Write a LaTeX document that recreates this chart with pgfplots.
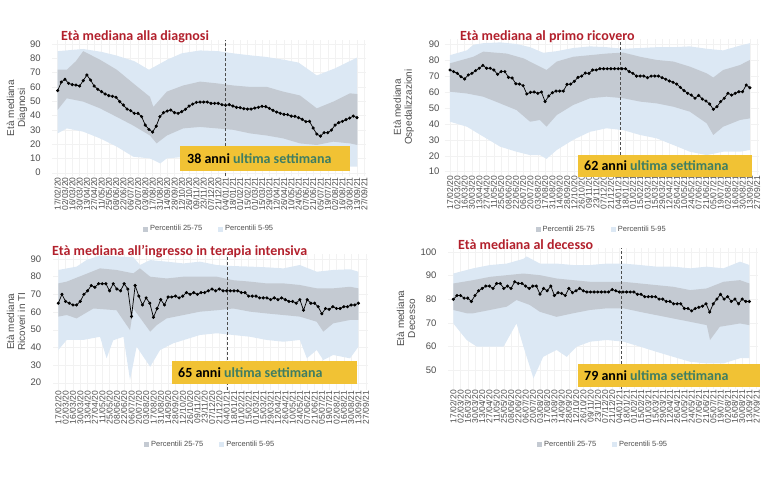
\documentclass[border=0pt]{standalone}
\usepackage{fontspec}
\setmainfont{Liberation Sans}
\newfontfamily\calibri{Carlito}
\usepackage{pgfplots}
\pgfplotsset{compat=1.18}
\definecolor{lb}{RGB}{220,232,244}
\definecolor{dg}{RGB}{196,202,210}
\definecolor{tred}{RGB}{178,32,44}
\definecolor{byel}{RGB}{241,194,52}
\definecolor{bgreen}{RGB}{62,125,98}
\definecolor{tickc}{RGB}{77,77,77}
\pgfplotsset{
 panel/.style={
  scale only axis, anchor=north west,
  xmin=-1.5, xmax=84.5,
  axis line style={draw=none}, tick style={draw=none},
  xtick={0,2,...,84},
  xticklabels={17/02/20,02/03/20,16/03/20,30/03/20,13/04/20,27/04/20,11/05/20,25/05/20,08/06/20,22/06/20,06/07/20,20/07/20,03/08/20,17/08/20,31/08/20,14/09/20,28/09/20,12/10/20,26/10/20,09/11/20,23/11/20,07/12/20,21/12/20,04/01/21,18/01/21,01/02/21,15/02/21,01/03/21,15/03/21,29/03/21,12/04/21,26/04/21,10/05/21,24/05/21,07/06/21,21/06/21,05/07/21,19/07/21,02/08/21,16/08/21,30/08/21,13/09/21,27/09/21},
  xticklabel style={rotate=90, anchor=east, font=\fontsize{8.5}{8.5}\selectfont, text=tickc, inner sep=1pt},
  yticklabel style={font=\fontsize{9.5}{10}\selectfont, text=tickc},
  /pgf/number format/assume math mode=true,
  grid=major, grid style={gray!10, line width=0.4pt},
  ylabel style={anchor=center, align=center, font=\fontsize{10}{11}\selectfont, text=tickc},
  legend columns=2,
  legend style={draw=none, fill=none, font=\fontsize{7.5}{8}\selectfont, text=tickc, anchor=center, /tikz/every even column/.append style={column sep=14pt}},
  legend image code/.code={\fill[##1] (0pt,-2.5pt) rectangle (5pt,2.5pt);},
 },
 med/.style={black, line width=0.7pt, mark=*, mark size=1.2pt, forget plot},
 bandA/.style={fill=lb, draw=none, forget plot},
 bandB/.style={fill=dg, draw=none, forget plot},
}
\begin{document}
\begin{tikzpicture}
\path[use as bounding box] (0pt,0pt) rectangle (767pt,-502pt);

% ---------- Panel 1 ----------
\begin{axis}[panel, at={(52.2pt,-39.7pt)}, width=313.9pt, height=136.6pt,
  ymin=-2.5, ymax=93, ytick={0,10,...,90},
  yticklabel style={xshift=-8pt},
  ylabel={Età mediana\\Diagnosi}, ylabel style={at={(rel axis cs:-0.112,0.5)}},
  legend style={at={(0.5,-0.386)}}]
\addlegendimage{fill=dg, draw=none}\addlegendentry{Percentili 25-75}
\addlegendimage{fill=lb, draw=none}\addlegendentry{Percentili 5-95}
\addplot[bandA] coordinates {(0,85)(7,86.5)(12,84.5)(16,82)(21,78)(25,72)(30,79)(34,83.5)(39,85.5)(44,85)(48,83.5)(53,82)(57,81)(62,79)(66,77)(71,68)(76,73)(82,80.5)
(82.1,4.2)(80.1,4.2)(75.5,4.2)(71,4.2)(66.4,5.4)(61.8,6.5)(57.3,7.7)(52.7,8.9)(48.1,10)(43.6,11)(39,12.4)(34.4,11)(29.9,10)(28.1,6.5)(25.3,10)(20.7,11.2)(16.2,18.2)(11.6,24)(7,28.7)(2.5,31)(0,27.5)} -- cycle;
\addplot[bandB] coordinates {(0,72)(2.5,72)(5,78)(7,85)(11.6,79)(16.2,72)(20.7,62.5)(25.3,53)(26.2,46)(29.9,56.7)(34.4,61)(39,63.7)(43.6,62.5)(48.1,61)(52.7,60)(57.3,60)(61.8,56.7)(66.4,54)(71,45)(75.5,49.7)(80.1,55.5)(82.1,55)
(82.1,19.4)(80.1,20.5)(75.5,21.7)(71,19.4)(66.4,20.5)(61.8,24)(57.3,26)(52.7,27.5)(48.1,30)(43.6,31)(39,32)(34.4,31)(29.9,26)(27.1,20.5)(25.3,26)(20.7,33)(16.2,39)(11.6,45)(7,49.7)(2.5,52)(0,44)} -- cycle;
\addplot[med] table[x expr=\coordindex, y=m, row sep=\\] {m\\
57.4\\63.4\\65.3\\62.5\\61.6\\61.3\\60.6\\64.4\\68.3\\64.8\\60.6\\58.3\\56.7\\55\\53.9\\53.4\\52.7\\49.7\\47.3\\44.5\\43.4\\41.5\\41.5\\39.2\\33.3\\30.3\\28.4\\32.6\\39.2\\42\\43.1\\43.8\\42\\41.5\\42.7\\44.3\\46.6\\48\\49.2\\49.4\\49.4\\49.4\\48.5\\48.5\\48.5\\47.6\\47.1\\47.6\\46.6\\45.7\\45.5\\44.8\\44.5\\44.5\\45.2\\45.7\\46.4\\46.2\\45\\43.6\\42.4\\41.5\\40.8\\40.6\\39.6\\39.4\\38.5\\37.3\\35.7\\35.9\\31.2\\27\\25.6\\28\\28\\29.8\\33.3\\35\\35.9\\37.1\\38.2\\39.6\\38.5\\
};
\addplot[densely dashed, tickc, line width=0.6pt, forget plot] coordinates {(46,-2.5)(46,93)};
\end{axis}

% ---------- Panel 2 ----------
\begin{axis}[panel, at={(444.5pt,-39.2pt)}, width=314.5pt, height=135.7pt,
  ymin=8, ymax=93, ytick={10,20,...,90},
  yticklabel style={xshift=-1.5pt},
  ylabel={Età mediana\\Ospedalizzazioni}, ylabel style={at={(rel axis cs:-0.130,0.5)}},
  legend style={at={(0.5,-0.399)}}]
\addlegendimage{fill=dg, draw=none}\addlegendentry{Percentili 25-75}
\addlegendimage{fill=lb, draw=none}\addlegendentry{Percentili 5-95}
\addplot[bandA] coordinates {(0,83)(4.6,86)(6.4,89.5)(9.1,90.5)(13.7,91)(18.2,90)(21.9,88)(25.5,84.5)(29.2,85.5)(33.7,87.5)(38.3,88.5)(42.8,88)(47.4,87)(52,87.5)(56.5,88)(61.1,88)(65.6,88.5)(70.2,87)(74.7,86)(79.3,89)(82,90.5)
(82,23.6)(79.3,22.5)(74.7,22.5)(70.2,20.4)(65.6,22.5)(61.1,26.7)(56.5,30.9)(52,33)(47.4,36)(42.8,37.2)(38.3,35)(33.7,30)(29.2,23.6)(26.4,18)(24.6,20.4)(21.9,20.4)(18.2,22.5)(13.7,25.7)(9.1,32)(4.6,38.2)(0,41.3)} -- cycle;
\addplot[bandB] coordinates {(0,77.9)(6.4,82)(9.1,85.2)(15.5,84)(20.1,81)(24.6,75.8)(26.4,73.7)(29.2,79)(33.7,82)(38.3,83)(42.8,84)(47.4,84.6)(52,82)(56.5,80)(61.1,79)(65.6,75.8)(70.2,71.6)(72,69)(74.7,73.7)(79.3,76.8)(82,80)
(82,43.4)(79.3,42.4)(74.7,38.2)(72,33)(70.2,40.3)(65.6,47.6)(61.1,50.7)(56.5,52.8)(52,53.9)(47.4,56)(42.8,57)(38.3,56)(33.7,51.8)(29.2,45.5)(26.4,38.2)(24.6,42.4)(21.9,41.3)(18.2,48.6)(13.7,52.8)(9.1,57)(4.6,59)(0,60.1)} -- cycle;
\addplot[med] table[x expr=\coordindex, y=m, row sep=\\] {m\\
73.7\\72.7\\71.6\\69.5\\68.1\\70.6\\71.6\\73.3\\74.8\\76.6\\74.8\\74.8\\73.7\\71\\72.7\\72.7\\69.1\\68.7\\65.1\\64.9\\63.9\\58.7\\59.7\\59.9\\59.1\\59.9\\53.9\\57.4\\59.5\\60.5\\60.5\\60.5\\64.7\\64.9\\66.6\\69.1\\69.9\\71.8\\71.6\\73.7\\73.7\\74.5\\74.5\\74.5\\74.5\\74.5\\74.5\\74.5\\74.5\\72.7\\71.6\\69.9\\69.9\\69.9\\68.9\\69.9\\69.9\\69.9\\68.9\\67.9\\66.8\\66\\64.9\\62.8\\60.8\\59.1\\58\\56\\57.8\\55.5\\54.3\\52.4\\49.1\\50.7\\53.9\\56\\59.1\\58\\59.1\\60.1\\60.1\\64.3\\62.6\\
};
\addplot[densely dashed, tickc, line width=0.6pt, forget plot] coordinates {(46.5,8)(46.5,93)};
\end{axis}

% ---------- Panel 3 ----------
\begin{axis}[panel, at={(52.8pt,-253.7pt)}, width=314.8pt, height=136.1pt,
  ymin=16, ymax=93, ytick={20,30,...,90},
  yticklabel style={xshift=-8pt},
  ylabel={Età mediana\\Ricoveri in TI}, ylabel style={at={(rel axis cs:-0.117,0.5)}},
  legend style={at={(0.5,-0.401)}}]
\addlegendimage{fill=dg, draw=none}\addlegendentry{Percentili 25-75}
\addlegendimage{fill=lb, draw=none}\addlegendentry{Percentili 5-95}
\addplot[bandA] coordinates {(0,83.8)(5,85.7)(7.7,89.4)(11.4,92)(20.5,91)(22.3,86.6)(25.1,89.4)(29.6,88.5)(34.2,87.5)(38.7,88.5)(43.3,86.6)(47.8,86)(52.4,85.7)(56.9,85.3)(61.5,84.7)(66,86.6)(70.6,82.8)(75.1,83.8)(79.7,84.2)(82,82.8)
(82,40.4)(79.7,33.8)(75.1,35.7)(72.4,32.8)(70.6,38.5)(67.9,33.8)(66,44.2)(61.5,43.2)(56.9,44.2)(52.4,46)(47.8,47)(43.3,48)(38.7,47)(31.4,42.3)(27.8,38.5)(25.1,29)(21.4,40.4)(19.6,21.5)(17.8,46)(15,44)(13.2,33.8)(11.4,46)(6.8,44.2)(2.3,44.2)(0,38.5)} -- cycle;
\addplot[bandB] coordinates {(0,76.2)(2.3,77.2)(6.8,80.9)(11.4,84.7)(15.9,83.8)(20.5,81.9)(22.3,84.7)(25.1,80)(29.6,79)(34.2,80)(38.7,80)(43.3,80)(47.8,78)(52.4,77.2)(56.9,76.2)(61.5,76.2)(66,75.3)(70.6,73.4)(75.1,73.4)(79.7,74.3)(82,73.4)
(82,55.5)(79.7,55.5)(75.1,53.6)(72.4,48.9)(70.6,54.5)(66,57.4)(61.5,58.3)(56.9,59.2)(52.4,60.2)(47.8,62)(43.3,61)(38.7,60.2)(34.2,58.3)(29.6,56.4)(26.9,52.6)(25.1,48.9)(20.5,62)(19.6,49.8)(15.9,61)(9.6,62)(5,56.4)(2.3,58.3)(0,57.4)} -- cycle;
\addplot[med] table[x expr=\coordindex, y=m, row sep=\\] {m\\
65\\70\\66\\65\\64\\64\\66\\70\\72\\75\\74\\76\\76\\76\\72\\76\\73\\72\\76\\73\\57.5\\75\\69\\64\\68\\65\\57\\62\\67\\64\\68.5\\68.5\\69\\68\\69\\71\\70\\71\\70\\71\\71\\72\\73\\72\\73\\72\\72\\72\\72\\72\\71\\71\\69\\69\\69\\68\\68\\68\\67\\68\\67\\68\\67\\66\\66\\65\\67\\61\\67\\65\\65\\63\\59\\62\\61.5\\63\\62\\62\\63\\63\\64\\64\\65\\
};
\addplot[densely dashed, tickc, line width=0.6pt, forget plot] coordinates {(46.3,16)(46.3,93)};
\end{axis}

% ---------- Panel 4 ----------
\begin{axis}[panel, at={(447.9pt,-248.2pt)}, width=310.5pt, height=140.8pt,
  ymin=42, ymax=101.5, ytick={50,60,...,100},
  yticklabel style={xshift=-8pt},
  ylabel={Età mediana\\Decesso}, ylabel style={at={(rel axis cs:-0.135,0.5)}},
  legend style={at={(0.5,-0.391)}}]
\addlegendimage{fill=dg, draw=none}\addlegendentry{Percentili 25-75}
\addlegendimage{fill=lb, draw=none}\addlegendentry{Percentili 5-95}
\addplot[bandA] coordinates {(0,90.8)(5.5,93)(10.2,94.4)(14.8,95)(19.4,97)(20.3,98)(24,95)(28.6,95)(33.2,94.4)(37.9,94.4)(42.5,95)(47.1,95)(51.7,94.4)(56.3,93.7)(60.9,93.7)(65.6,93)(70.2,93.7)(74.8,93)(79.4,95.8)(82,94.4)
(82,55)(79.4,55)(74.8,52.8)(70.2,52.8)(65.6,53.5)(60.9,55.6)(56.3,57.7)(51.7,59.9)(47.1,62)(42.5,62.7)(37.9,62)(34.2,59.9)(31.4,55.6)(28.6,58.5)(24.9,55.6)(22.2,46.5)(19.4,60)(17.5,69.7)(13.9,59.9)(10.2,59.9)(6.5,59.9)(3.7,62.7)(0,69.7)} -- cycle;
\addplot[bandB] coordinates {(0,86.6)(5.5,88)(10.2,89.4)(14.8,90.1)(19.4,90.8)(24,90.1)(28.6,88.7)(33.2,88)(37.9,87.3)(42.5,87.3)(47.1,87.3)(51.7,86.6)(56.3,85.9)(60.9,85.2)(65.6,83.8)(70.2,84.5)(74.8,87.3)(79.4,88)(82,86.6)
(82,69)(79.4,69.7)(73.8,68.3)(71.1,62.7)(70.2,69)(65.6,70.4)(60.9,71.8)(56.3,73.2)(51.7,74.6)(47.1,76.1)(42.5,76.1)(37.9,75.4)(33.2,74)(28.6,72.5)(24,74.6)(21.2,77.5)(17.5,79.6)(14.8,76.8)(10.2,75.4)(5.5,74)(3.7,74)(0,75.4)} -- cycle;
\addplot[med] table[x expr=\coordindex, y=m, row sep=\\] {m\\
79.9\\81.5\\81.5\\80.4\\80.4\\79\\81.5\\83.5\\84.5\\85.5\\85.5\\84.5\\86.6\\86.6\\84.5\\85.5\\84.5\\87.3\\86.6\\86.6\\85.5\\84.5\\85.5\\85.5\\82.1\\84.5\\83.5\\85.5\\81.5\\82.7\\82.4\\81.5\\84.5\\82.7\\83.5\\84.5\\83.5\\83\\83\\83\\83\\83\\83\\83\\84\\83.5\\83\\83\\83\\83\\83\\82\\82\\81\\81\\81\\81\\80\\80\\79\\79\\78\\78\\78\\76\\76\\75\\76\\76.5\\77\\78\\74.5\\78\\80\\82\\80\\81\\79\\80\\78\\80\\79\\79\\
};
\addplot[densely dashed, tickc, line width=0.6pt, forget plot] coordinates {(46.4,42)(46.4,101.5)};
\end{axis}

% ---------- titles ----------
\begin{scope}[every node/.style={anchor=west, inner sep=0pt, text=tred, font=\calibri\bfseries\fontsize{14}{15}\selectfont}]
\node at (61pt,-37pt) {Età mediana alla diagnosi};
\node at (460pt,-36.7pt) {Età mediana al primo ricovero};
\node at (52pt,-251.7pt) {Età mediana all’ingresso in terapia intensiva};
\node at (458pt,-245pt) {Età mediana al decesso};
\end{scope}

% ---------- yellow boxes ----------
\fill[byel] (180pt,-146pt) rectangle (350pt,-171pt);
\fill[byel] (578pt,-155pt) rectangle (752pt,-177pt);
\fill[byel] (172pt,-361pt) rectangle (357pt,-384pt);
\fill[byel] (578pt,-364pt) rectangle (760pt,-387pt);
\begin{scope}[every node/.style={anchor=west, inner sep=0pt, font=\calibri\bfseries\fontsize{14}{15}\selectfont}]
\node at (187pt,-158.5pt) {38 anni \textcolor{bgreen}{ultima settimana}};
\node at (584pt,-166pt) {62 anni \textcolor{bgreen}{ultima settimana}};
\node at (178pt,-372.5pt) {65 anni \textcolor{bgreen}{ultima settimana}};
\node at (584pt,-375.5pt) {79 anni \textcolor{bgreen}{ultima settimana}};
\end{scope}
\end{tikzpicture}
\end{document}
